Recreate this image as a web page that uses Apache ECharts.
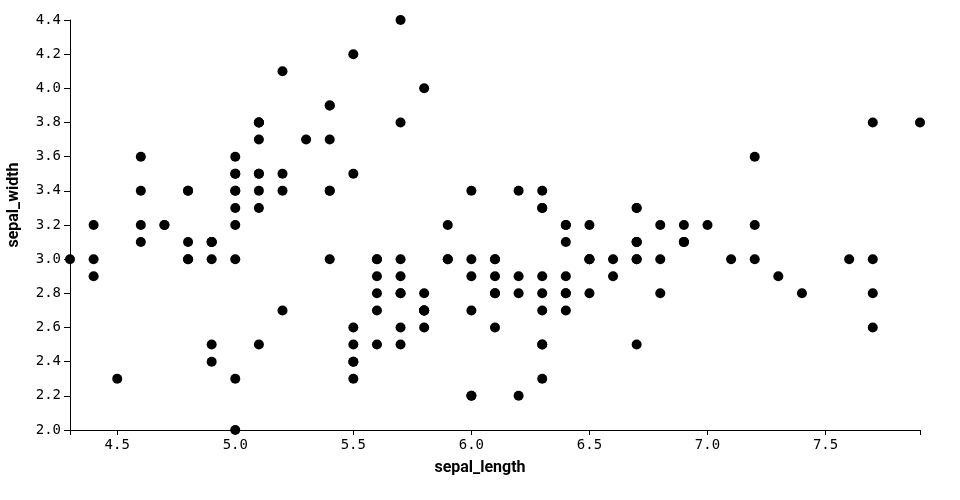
<!DOCTYPE html>
<html>
<head>
<meta charset="utf-8">
<script src="https://cdn.jsdelivr.net/npm/echarts@6/dist/echarts.min.js"></script>
<style>html,body{margin:0;padding:0;background:#fff}#c{width:960px;height:500px}</style>
</head>
<body>
<div id="c"></div>
<script>
const sepalLength = [5.1,4.9,4.7,4.6,5.0,5.4,4.6,5.0,4.4,4.9,5.4,4.8,4.8,4.3,5.8,5.7,5.4,5.1,5.7,5.1,5.4,5.1,4.6,5.1,4.8,5.0,5.0,5.2,5.2,4.7,4.8,5.4,5.2,5.5,4.9,5.0,5.5,4.9,4.4,5.1,5.0,4.5,4.4,5.0,5.1,4.8,5.1,4.6,5.3,5.0,
7.0,6.4,6.9,5.5,6.5,5.7,6.3,4.9,6.6,5.2,5.0,5.9,6.0,6.1,5.6,6.7,5.6,5.8,6.2,5.6,5.9,6.1,6.3,6.1,6.4,6.6,6.8,6.7,6.0,5.7,5.5,5.5,5.8,6.0,5.4,6.0,6.7,6.3,5.6,5.5,5.5,6.1,5.8,5.0,5.6,5.7,5.7,6.2,5.1,5.7,
6.3,5.8,7.1,6.3,6.5,7.6,4.9,7.3,6.7,7.2,6.5,6.4,6.8,5.7,5.8,6.4,6.5,7.7,7.7,6.0,6.9,5.6,7.7,6.3,6.7,7.2,6.2,6.1,6.4,7.2,7.4,7.9,6.4,6.3,6.1,7.7,6.3,6.4,6.0,6.9,6.7,6.9,5.8,6.8,6.7,6.7,6.3,6.5,6.2,5.9];
const sepalWidth = [3.5,3.0,3.2,3.1,3.6,3.9,3.4,3.4,2.9,3.1,3.7,3.4,3.0,3.0,4.0,4.4,3.9,3.5,3.8,3.8,3.4,3.7,3.6,3.3,3.4,3.0,3.4,3.5,3.4,3.2,3.1,3.4,4.1,4.2,3.1,3.2,3.5,3.1,3.0,3.4,3.5,2.3,3.2,3.5,3.8,3.0,3.8,3.2,3.7,3.3,
3.2,3.2,3.1,2.3,2.8,2.8,3.3,2.4,2.9,2.7,2.0,3.0,2.2,2.9,2.9,3.1,3.0,2.7,2.2,2.5,3.2,2.8,2.5,2.8,2.9,3.0,2.8,3.0,2.9,2.6,2.4,2.4,2.7,2.7,3.0,3.4,3.1,2.3,3.0,2.5,2.6,3.0,2.6,2.3,2.7,3.0,2.9,2.9,2.5,2.8,
3.3,2.7,3.0,2.9,3.0,3.0,2.5,2.9,2.5,3.6,3.2,2.7,3.0,2.5,2.8,3.2,3.0,3.8,2.6,2.2,3.2,2.8,2.8,2.7,3.3,3.2,2.8,3.0,2.8,3.0,2.8,3.8,2.8,2.8,2.6,3.0,3.4,3.1,3.0,3.1,3.1,3.1,2.7,3.2,3.3,3.0,2.5,3.0,3.4,3.0];
const xTickLabels = [4.5,5.0,5.5,6.0,6.5,7.0,7.5];
const xTicks = [4.3,4.5,5.0,5.5,6.0,6.5,7.0,7.5,7.9];
const xTitle = 'sepal_length';
const yTitle = 'sepal_width';

const points = sepalLength.map((v, i) => [v, sepalWidth[i]]);
const monoFont = 'DejaVu Sans Mono';
const chart = echarts.init(document.getElementById('c'), null, {renderer: 'canvas'});
chart.setOption({
  animation: false,
  grid: {left: 70, right: 40, top: 20, bottom: 70, containLabel: false},
  xAxis: {
    type: 'value', min: 4.3, max: 7.9,
    axisLine: {show: true, onZero: false, lineStyle: {color: '#000', width: 1}},
    axisTick: {show: true, length: 5, lineStyle: {color: '#000'}, customValues: xTicks},
    axisLabel: {customValues: xTickLabels, formatter: v => v.toFixed(1), color: '#000', fontFamily: monoFont, fontSize: 14, margin: 8},
    splitLine: {show: false}
  },
  yAxis: {
    type: 'value', min: 2.0, max: 4.4, interval: 0.2,
    axisLine: {show: true, onZero: false, lineStyle: {color: '#000', width: 1}},
    axisTick: {show: true, length: 6, lineStyle: {color: '#000'}},
    axisLabel: {formatter: v => v.toFixed(1), color: '#000', fontFamily: monoFont, fontSize: 14, margin: 9},
    splitLine: {show: false}
  },
  graphic: [
    {type: 'text', left: 'center', top: 460, style: {text: xTitle, font: 'bold 16px Roboto', fill: '#000'}},
    {type: 'text', x: 6, y: 205, rotation: Math.PI / 2, style: {text: yTitle, font: 'bold 16px Roboto', fill: '#000', align: 'center', verticalAlign: 'top'}}
  ],
  series: [{
    type: 'scatter',
    data: points,
    symbolSize: 10,
    itemStyle: {color: '#000', opacity: 1},
    emphasis: {disabled: true}
  }]
});
</script>
</body>
</html>
